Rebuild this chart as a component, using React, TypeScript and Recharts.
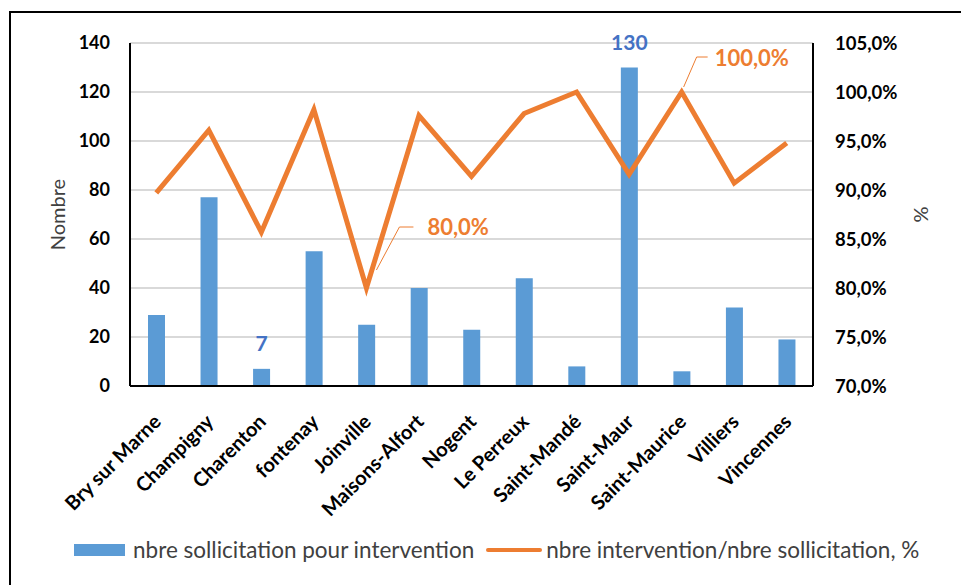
import React from 'react';
import { ComposedChart, Bar, Line, XAxis, YAxis, CartesianGrid, LabelList, Label } from 'recharts';

const categories = ['Bry sur Marne', 'Champigny', 'Charenton', 'fontenay', 'Joinville', 'Maisons-Alfort', 'Nogent', 'Le Perreux', 'Saint-Mandé', 'Saint-Maur', 'Saint-Maurice', 'Villiers', 'Vincennes'];
const sollicitations = [29, 77, 7, 55, 25, 40, 23, 44, 8, 130, 6, 32, 19];
const ratioPct = [89.7, 96.1, 85.7, 98.2, 80.0, 97.6, 91.4, 97.8, 100.0, 91.6, 100.0, 90.7, 94.8];
const barLabelShown = [false, false, true, false, false, false, false, false, false, true, false, false, false];
const lineLabelShown = [false, false, false, false, true, false, false, false, false, false, true, false, false];
const leftTicks = [0, 20, 40, 60, 80, 100, 120, 140];
const rightTicks = [70, 75, 80, 85, 90, 95, 100, 105];

const seriesBarName = 'nbre sollicitation pour intervention';
const seriesLineName = 'nbre intervention/nbre sollicitation, %';

const data = categories.map((c, i) => ({ name: c, bar: sollicitations[i], pct: ratioPct[i], i }));

const FONT = 'Lato, "Open Sans", sans-serif';
const BLUE = '#5B9BD5';
const ORANGE = '#ED7D31';
const LABEL_BLUE = '#4472C4';

const fmtPct = (v: number) => v.toFixed(1).replace('.', ',') + '%';

const XTick = (props: any) => {
  const { x, y, payload } = props;
  return (
    <g transform={`translate(${x + 6},${y + 29})`}>
      <text x={0} y={0} textAnchor="end" transform="rotate(-45)" fontFamily={FONT} fontWeight={700} fontSize={20} fill="#000">
        {payload.value}
      </text>
    </g>
  );
};

const BarValueLabel = (props: any) => {
  const { x, y, width, value, index } = props;
  if (!barLabelShown[index]) return null;
  return (
    <text x={x + width / 2} y={y - 18} textAnchor="middle" fontFamily={FONT} fontWeight={700} fontSize={21} fill={LABEL_BLUE}>
      {value}
    </text>
  );
};

const LineValueLabel = (props: any) => {
  const { x, y, value, index } = props;
  if (!lineLabelShown[index]) return null;
  if (index === 4) {
    return (
      <g>
        <polyline points={`${x + 10},${y - 18} ${x + 33},${y - 61} ${x + 47},${y - 61}`} fill="none" stroke={ORANGE} strokeWidth={1} />
        <text x={x + 61} y={y - 53} textAnchor="start" fontFamily={FONT} fontWeight={700} fontSize={22} fill={ORANGE}>
          {fmtPct(value)}
        </text>
      </g>
    );
  }
  return (
    <g>
      <polyline points={`${x + 2},${y - 5} ${x + 15},${y - 35} ${x + 26},${y - 35}`} fill="none" stroke={ORANGE} strokeWidth={1} />
      <text x={x + 33} y={y - 26} textAnchor="start" fontFamily={FONT} fontWeight={700} fontSize={22} fill={ORANGE}>
        {fmtPct(value)}
      </text>
    </g>
  );
};

export default function App() {
  return (
    <div style={{ position: 'absolute', left: 0, top: 0, width: 961, height: 585, background: '#fff', overflow: 'hidden' }}>
      <div style={{ position: 'absolute', left: 9, top: 11, width: 960, height: 600, borderLeft: '2px solid #000', borderTop: '2px solid #000' }} />
      <ComposedChart width={961} height={585} data={data} margin={{ top: 43, right: 0, bottom: 0, left: 0 }}>
        <CartesianGrid vertical={false} stroke="#d9d9d9" strokeWidth={2} yAxisId="left" />
        <XAxis dataKey="name" height={199} interval={0} tick={<XTick />} tickLine={false} axisLine={{ stroke: '#000', strokeWidth: 2 }} />
        <YAxis yAxisId="left" orientation="left" width={130} domain={[0, 140]} ticks={leftTicks} tickLine={false} tickSize={6} tickMargin={14}
          axisLine={{ stroke: '#000', strokeWidth: 2 }} tick={{ fontFamily: FONT, fontWeight: 700, fontSize: 18, fill: '#000' }}>
          <Label value="Nombre" angle={-90} position="insideLeft" offset={0} dx={58} style={{ fontFamily: FONT, fontSize: 20, fill: '#404040', textAnchor: 'middle' }} />
        </YAxis>
        <YAxis yAxisId="right" orientation="right" width={148} domain={[70, 105]} ticks={rightTicks} tickLine={false} tickSize={6} tickMargin={16}
          tickFormatter={fmtPct}
          axisLine={{ stroke: '#000', strokeWidth: 2 }} tick={{ fontFamily: FONT, fontWeight: 700, fontSize: 18.5, fill: '#000' }}>
          <Label value="%" angle={-90} position="insideRight" offset={0} dx={-40} style={{ fontFamily: FONT, fontSize: 20, fill: '#404040', textAnchor: 'middle' }} />
        </YAxis>
        <Bar yAxisId="left" dataKey="bar" name={seriesBarName} fill={BLUE} barSize={17} isAnimationActive={false}>
          <LabelList dataKey="bar" content={<BarValueLabel />} />
        </Bar>
        <Line yAxisId="right" dataKey="pct" name={seriesLineName} type="linear" stroke={ORANGE} strokeWidth={5} dot={false} activeDot={false} isAnimationActive={false}>
          <LabelList dataKey="pct" content={<LineValueLabel />} />
        </Line>
      </ComposedChart>
      <div style={{ position: 'absolute', left: 74, top: 536, display: 'flex', alignItems: 'center', fontFamily: FONT, fontSize: 22.5, color: '#404040', whiteSpace: 'nowrap' }}>
        <span style={{ display: 'inline-block', width: 51, height: 12, background: BLUE, marginRight: 8 }} />
        <span>{seriesBarName}</span>
        <span style={{ display: 'inline-block', width: 56, height: 4, borderRadius: 2, background: ORANGE, marginLeft: 12, marginRight: 4 }} />
        <span>{seriesLineName}</span>
      </div>
    </div>
  );
}
